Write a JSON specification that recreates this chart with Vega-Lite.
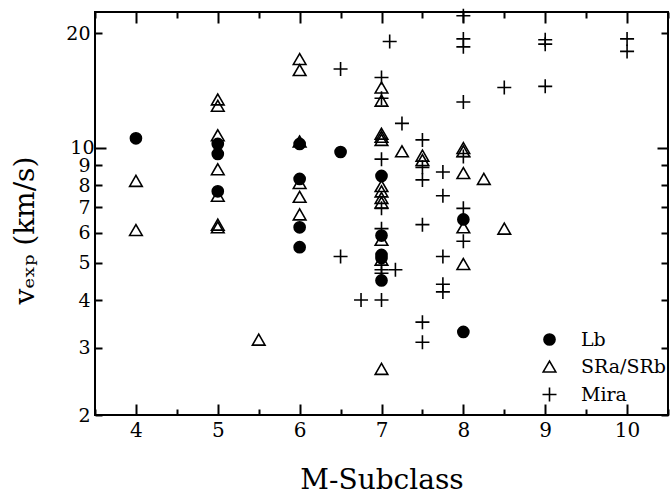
{
  "$schema": "https://vega.github.io/schema/vega-lite/v6.json",
  "width": 573,
  "height": 403,
  "autosize": "none",
  "padding": {"left": 95, "top": 12, "right": 2, "bottom": 81},
  "background": "white",
  "config": {
    "view": {"stroke": "black", "strokeWidth": 2},
    "font": "DejaVu Serif",
    "axis": {
      "grid": false,
      "domain": false,
      "labelFont": "DejaVu Serif",
      "labelFontSize": 20,
      "labelColor": "black",
      "labelOverlap": false,
      "titleFont": "DejaVu Serif",
      "titleFontSize": 28,
      "titleFontWeight": "normal",
      "titleColor": "black",
      "tickColor": "black",
      "tickWidth": 2
    }
  },
  "data": {
    "values": [
      {"subclass": 4, "vexp": 8.2, "type": "SRa/SRb"},
      {"subclass": 4, "vexp": 6.1, "type": "SRa/SRb"},
      {"subclass": 5, "vexp": 13.4, "type": "SRa/SRb"},
      {"subclass": 5, "vexp": 12.9, "type": "SRa/SRb"},
      {"subclass": 5, "vexp": 10.8, "type": "SRa/SRb"},
      {"subclass": 5, "vexp": 8.8, "type": "SRa/SRb"},
      {"subclass": 5, "vexp": 7.5, "type": "SRa/SRb"},
      {"subclass": 5, "vexp": 6.3, "type": "SRa/SRb"},
      {"subclass": 5, "vexp": 6.2, "type": "SRa/SRb"},
      {"subclass": 5.5, "vexp": 3.15, "type": "SRa/SRb"},
      {"subclass": 6, "vexp": 17.1, "type": "SRa/SRb"},
      {"subclass": 6, "vexp": 16.0, "type": "SRa/SRb"},
      {"subclass": 6, "vexp": 10.4, "type": "SRa/SRb"},
      {"subclass": 6, "vexp": 8.1, "type": "SRa/SRb"},
      {"subclass": 6, "vexp": 7.45, "type": "SRa/SRb"},
      {"subclass": 6, "vexp": 6.7, "type": "SRa/SRb"},
      {"subclass": 7, "vexp": 14.4, "type": "SRa/SRb"},
      {"subclass": 7, "vexp": 13.3, "type": "SRa/SRb"},
      {"subclass": 7, "vexp": 10.9, "type": "SRa/SRb"},
      {"subclass": 7, "vexp": 10.7, "type": "SRa/SRb"},
      {"subclass": 7, "vexp": 10.5, "type": "SRa/SRb"},
      {"subclass": 7, "vexp": 7.95, "type": "SRa/SRb"},
      {"subclass": 7, "vexp": 7.7, "type": "SRa/SRb"},
      {"subclass": 7, "vexp": 7.4, "type": "SRa/SRb"},
      {"subclass": 7, "vexp": 7.2, "type": "SRa/SRb"},
      {"subclass": 7, "vexp": 5.75, "type": "SRa/SRb"},
      {"subclass": 7, "vexp": 5.1, "type": "SRa/SRb"},
      {"subclass": 7, "vexp": 2.64, "type": "SRa/SRb"},
      {"subclass": 7.25, "vexp": 9.8, "type": "SRa/SRb"},
      {"subclass": 7.5, "vexp": 9.55, "type": "SRa/SRb"},
      {"subclass": 7.5, "vexp": 9.3, "type": "SRa/SRb"},
      {"subclass": 8, "vexp": 10.0, "type": "SRa/SRb"},
      {"subclass": 8, "vexp": 9.8, "type": "SRa/SRb"},
      {"subclass": 8, "vexp": 8.6, "type": "SRa/SRb"},
      {"subclass": 8, "vexp": 6.2, "type": "SRa/SRb"},
      {"subclass": 8, "vexp": 4.97, "type": "SRa/SRb"},
      {"subclass": 8.25, "vexp": 8.3, "type": "SRa/SRb"},
      {"subclass": 8.5, "vexp": 6.15, "type": "SRa/SRb"},
      {"subclass": 4, "vexp": 10.6, "type": "Lb"},
      {"subclass": 5, "vexp": 10.25, "type": "Lb"},
      {"subclass": 5, "vexp": 9.65, "type": "Lb"},
      {"subclass": 5, "vexp": 7.7, "type": "Lb"},
      {"subclass": 6, "vexp": 10.25, "type": "Lb"},
      {"subclass": 6, "vexp": 8.3, "type": "Lb"},
      {"subclass": 6, "vexp": 6.2, "type": "Lb"},
      {"subclass": 6, "vexp": 5.5, "type": "Lb"},
      {"subclass": 6.5, "vexp": 9.76, "type": "Lb"},
      {"subclass": 7, "vexp": 8.45, "type": "Lb"},
      {"subclass": 7, "vexp": 5.9, "type": "Lb"},
      {"subclass": 7, "vexp": 5.25, "type": "Lb"},
      {"subclass": 7, "vexp": 5.15, "type": "Lb"},
      {"subclass": 7, "vexp": 4.5, "type": "Lb"},
      {"subclass": 8, "vexp": 6.5, "type": "Lb"},
      {"subclass": 8, "vexp": 3.3, "type": "Lb"},
      {"subclass": 6.5, "vexp": 16.1, "type": "Mira"},
      {"subclass": 6.5, "vexp": 5.2, "type": "Mira"},
      {"subclass": 6.75, "vexp": 4.0, "type": "Mira"},
      {"subclass": 7, "vexp": 15.3, "type": "Mira"},
      {"subclass": 7, "vexp": 13.5, "type": "Mira"},
      {"subclass": 7, "vexp": 9.35, "type": "Mira"},
      {"subclass": 7, "vexp": 6.95, "type": "Mira"},
      {"subclass": 7, "vexp": 6.15, "type": "Mira"},
      {"subclass": 7, "vexp": 4.8, "type": "Mira"},
      {"subclass": 7, "vexp": 4.7, "type": "Mira"},
      {"subclass": 7, "vexp": 4.0, "type": "Mira"},
      {"subclass": 7.1, "vexp": 19.0, "type": "Mira"},
      {"subclass": 7.17, "vexp": 4.8, "type": "Mira"},
      {"subclass": 7.25, "vexp": 11.6, "type": "Mira"},
      {"subclass": 7.5, "vexp": 10.5, "type": "Mira"},
      {"subclass": 7.5, "vexp": 8.9, "type": "Mira"},
      {"subclass": 7.5, "vexp": 8.25, "type": "Mira"},
      {"subclass": 7.5, "vexp": 6.3, "type": "Mira"},
      {"subclass": 7.5, "vexp": 3.5, "type": "Mira"},
      {"subclass": 7.5, "vexp": 3.1, "type": "Mira"},
      {"subclass": 7.75, "vexp": 8.65, "type": "Mira"},
      {"subclass": 7.75, "vexp": 7.5, "type": "Mira"},
      {"subclass": 7.75, "vexp": 5.2, "type": "Mira"},
      {"subclass": 7.75, "vexp": 4.4, "type": "Mira"},
      {"subclass": 7.75, "vexp": 4.2, "type": "Mira"},
      {"subclass": 8, "vexp": 22.2, "type": "Mira"},
      {"subclass": 8, "vexp": 19.3, "type": "Mira"},
      {"subclass": 8, "vexp": 18.4, "type": "Mira"},
      {"subclass": 8, "vexp": 13.2, "type": "Mira"},
      {"subclass": 8, "vexp": 9.5, "type": "Mira"},
      {"subclass": 8, "vexp": 6.95, "type": "Mira"},
      {"subclass": 8, "vexp": 5.7, "type": "Mira"},
      {"subclass": 8.5, "vexp": 14.4, "type": "Mira"},
      {"subclass": 9, "vexp": 19.2, "type": "Mira"},
      {"subclass": 9, "vexp": 18.7, "type": "Mira"},
      {"subclass": 9, "vexp": 14.5, "type": "Mira"},
      {"subclass": 10, "vexp": 19.3, "type": "Mira"},
      {"subclass": 10, "vexp": 17.9, "type": "Mira"}
    ]
  },
  "layer": [
    {
      "mark": {"type": "point", "filled": true, "stroke": "black", "strokeWidth": 1.6, "opacity": 1},
      "encoding": {
        "x": {
          "field": "subclass", "type": "quantitative",
          "scale": {"domain": [3.5, 10.5], "nice": false, "zero": false},
          "axis": {
            "orient": "bottom",
            "values": [3.5, 4, 4.5, 5, 5.5, 6, 6.5, 7, 7.5, 8, 8.5, 9, 9.5, 10, 10.5],
            "labelExpr": "datum.value % 1 === 0 ? format(datum.value, 'd') : ''",
            "tickSize": {"condition": {"test": "datum.value % 1 === 0", "value": -11}, "value": -6},
            "labelPadding": 16,
            "title": "M-Subclass",
            "titleY": 73,
            "titleBaseline": "alphabetic"
          }
        },
        "y": {
          "field": "vexp", "type": "quantitative",
          "scale": {"type": "log", "domain": [2, 22.7], "nice": false},
          "axis": {
            "orient": "left",
            "values": [2, 3, 4, 5, 6, 7, 8, 9, 10, 20],
            "labelExpr": "format(datum.value, 'd')",
            "labelFontSize": 19,
            "tickSize": {"condition": {"test": "datum.value === 10", "value": -11}, "value": -7},
            "labelPadding": 12,
            "title": "vₑₓₚ (km/s)",
            "titleX": -62,
            "titleY": 218,
            "titleBaseline": "alphabetic"
          }
        },
        "shape": {
          "field": "type", "type": "nominal",
          "scale": {"domain": ["Lb", "SRa/SRb", "Mira"], "range": ["circle", "triangle-up", "M-1,0H1M0,-1V1"]},
          "legend": {
            "orient": "none", "legendX": 445, "legendY": 318, "title": null,
            "labelFont": "DejaVu Serif", "labelFontSize": 19, "labelColor": "black",
            "labelOffset": 22, "rowPadding": 7, "padding": 0,
            "symbolStrokeColor": "black", "symbolStrokeWidth": 1.6
          }
        },
        "fill": {
          "field": "type", "type": "nominal",
          "scale": {"domain": ["Lb", "SRa/SRb", "Mira"], "range": ["black", "transparent", "transparent"]}
        },
        "size": {
          "field": "type", "type": "nominal",
          "scale": {"domain": ["Lb", "SRa/SRb", "Mira"], "range": [123, 196, 150]}
        }
      }
    },
    {
      "mark": {"type": "point", "opacity": 0},
      "encoding": {
        "x": {
          "field": "subclass", "type": "quantitative",
          "axis": {
            "orient": "top",
            "values": [3.5, 4, 4.5, 5, 5.5, 6, 6.5, 7, 7.5, 8, 8.5, 9, 9.5, 10, 10.5],
            "labels": false,
            "tickSize": {"condition": {"test": "datum.value % 1 === 0", "value": -11}, "value": -6},
            "title": null
          }
        },
        "y": {"field": "vexp", "type": "quantitative", "axis": null}
      }
    },
    {
      "mark": {"type": "point", "opacity": 0},
      "encoding": {
        "x": {"field": "subclass", "type": "quantitative", "axis": null},
        "y": {
          "field": "vexp", "type": "quantitative",
          "axis": {
            "orient": "right",
            "values": [2, 3, 4, 5, 6, 7, 8, 9, 10, 20],
            "labels": false,
            "tickSize": {"condition": {"test": "datum.value === 10", "value": -11}, "value": -7},
            "title": null
          }
        }
      }
    }
  ],
  "resolve": {"axis": {"x": "independent", "y": "independent"}}
}
